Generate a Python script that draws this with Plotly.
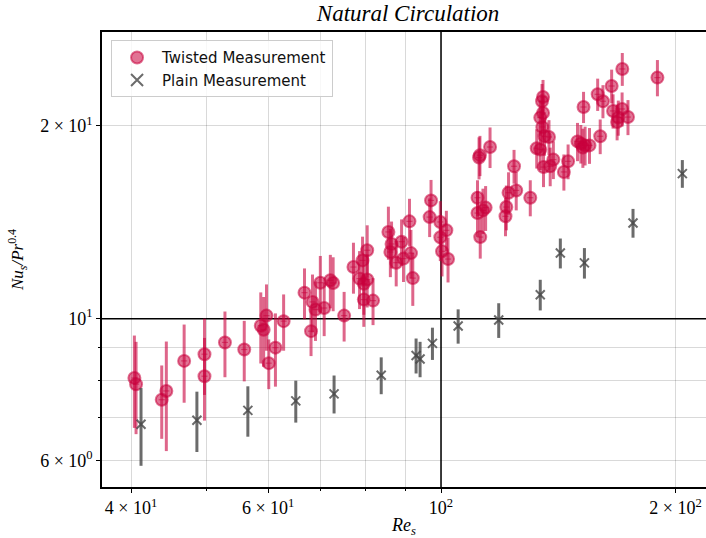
import plotly.graph_objects as go

# Twisted measurement data (Re_s, Nu_s/Pr^0.4, error)
tw_re = [40.4, 40.6, 43.8, 44.4, 46.8, 49.7, 49.7, 52.8, 55.9, 58.7, 59.2, 59.7, 60.1, 61.3, 62.8,
         66.8, 68.1, 68.4, 69.0, 70.0, 70.8, 72.1, 72.7, 75.1, 77.2, 78.6, 79.3, 79.6, 80.4, 79.6,
         81.8, 80.4, 85.6, 86.4, 86.1, 87.6, 89.0, 89.5, 91.1, 91.5, 92.0, 97.1, 96.7, 99.8, 99.8,
         101.6, 100.3, 102.1, 111.9, 112.2, 115.6, 111.4, 111.4, 113.2, 114.1, 112.3, 124.1, 122.1, 124.9, 121.3,
         121.0, 130.2, 134.8, 135.2, 134.1, 135.2, 134.9, 135.8, 137.6, 132.7, 134.1, 139.4, 135.4, 138.1, 145.6,
         143.8, 149.7, 151.2, 152.1, 153.1, 155.1, 152.4, 160.1, 158.9, 161.4, 165.6, 170.9, 166.3, 168.3, 168.9,
         170.8, 173.8, 189.6]
tw_nu = [8.08, 7.90, 7.47, 7.71, 8.59, 8.80, 8.13, 9.18, 8.95, 9.75, 9.61, 10.11, 8.52, 9.01, 9.91,
         10.98, 9.56, 10.62, 10.33, 11.38, 10.39, 11.48, 11.37, 10.11, 12.04, 11.55, 12.33, 11.34, 11.51, 10.71,
         10.67, 12.79, 13.66, 13.08, 12.71, 12.23, 13.19, 12.41, 14.19, 12.66, 11.57, 15.30, 14.41, 14.16, 13.40,
         13.74, 12.74, 12.39, 17.85, 18.00, 18.54, 15.45, 14.62, 14.76, 14.91, 13.41, 17.30, 15.73, 15.86, 14.94,
         14.45, 15.45, 21.86, 22.20, 20.61, 20.96, 19.93, 19.27, 19.22, 18.46, 18.37, 17.72, 17.25, 17.30, 17.61,
         16.95, 18.92, 18.77, 18.50, 18.65, 18.65, 21.41, 19.27, 22.41, 21.86, 23.09, 24.55, 21.11, 20.29, 20.61,
         21.26, 20.65, 23.80]
tw_err = [1.33, 1.30, 0.98, 1.50, 1.20, 1.20, 1.20, 1.08, 0.97, 1.24, 1.20, 1.20, 0.76, 1.18, 1.00,
          1.00, 0.82, 1.10, 1.10, 1.15, 1.00, 1.10, 1.10, 0.90, 1.10, 1.20, 1.10, 1.20, 1.10, 1.00,
          0.90, 1.20, 1.30, 1.10, 1.10, 1.00, 1.10, 1.00, 1.20, 1.10, 1.10, 1.17, 1.00, 1.10, 1.10,
          1.00, 1.10, 1.00, 1.35, 1.30, 1.35, 1.00, 1.20, 1.20, 1.20, 1.00, 1.05, 1.20, 1.10, 1.20,
          1.00, 1.00, 1.40, 1.40, 1.30, 1.30, 1.30, 1.30, 1.20, 1.30, 1.30, 1.20, 1.20, 1.20, 1.10,
          1.10, 1.30, 1.30, 1.30, 1.30, 1.20, 1.20, 1.20, 1.30, 1.30, 1.40, 1.45, 1.30, 1.30, 1.30,
          1.30, 1.30, 1.55]

# Plain measurement data
pl_re = [41.2, 48.6, 56.5, 65.1, 72.9, 83.8, 92.9, 94.0, 97.5, 105.2, 118.6, 134.1, 142.3, 152.8, 176.4, 204.1]
pl_nu = [6.84, 6.94, 7.19, 7.44, 7.63, 8.16, 8.76, 8.65, 9.15, 9.74, 9.95, 10.90, 12.66, 12.22, 14.11, 16.85]
pl_err = [0.95, 0.75, 0.65, 0.56, 0.52, 0.54, 0.55, 0.55, 0.53, 0.60, 0.62, 0.60, 0.68, 0.67, 0.73, 0.84]

x_major = [40, 60, 100, 200]
x_major_text = ["4 × 10<sup>1</sup>", "6 × 10<sup>1</sup>", "10<sup>2</sup>", "2 × 10<sup>2</sup>"]
x_minor = [50, 70, 80, 90]
y_major = [6, 10, 20]
y_major_text = ["6 × 10<sup>0</sup>", "10<sup>1</sup>", "2 × 10<sup>1</sup>"]
y_minor = [7, 8, 9]

RED = "rgba(200,0,60,0.6)"
GRAY = "rgba(70,70,70,0.8)"
SERIF = "Liberation Serif"

fig = go.Figure()
fig.add_trace(go.Scatter(
    x=tw_re, y=tw_nu, mode="markers", name="Twisted Measurement",
    error_y=dict(type="data", array=tw_err, visible=True, thickness=3, width=0, color=RED),
    error_x=dict(type="percent", value=0.9, visible=True, thickness=1.2, width=0, color="rgba(200,0,60,0.5)"),
    marker=dict(symbol="circle", size=12, color="rgba(200,0,60,0.55)",
                line=dict(width=2, color="rgba(200,0,60,0.55)")),
))
fig.add_trace(go.Scatter(
    x=pl_re, y=pl_nu, mode="markers", name="Plain Measurement",
    error_y=dict(type="data", array=pl_err, visible=True, thickness=3, width=0, color=GRAY),
    marker=dict(symbol="x-thin", size=9, color=GRAY, line=dict(width=2, color=GRAY)),
))

fig.add_vline(x=100, line=dict(color="black", width=1.5), layer="below")
fig.add_hline(y=10, line=dict(color="black", width=1.5), layer="below")

fig.update_layout(
    width=706, height=538,
    margin=dict(l=102, r=0, t=32, b=51),
    plot_bgcolor="white", paper_bgcolor="white",
    title=dict(text="<i>Natural Circulation</i>", x=0.578, xanchor="center", y=0.976, yanchor="middle",
               font=dict(family=SERIF, size=23, color="black")),
    showlegend=True,
    legend=dict(x=0.015, y=0.982, xanchor="left", yanchor="top",
                bgcolor="rgba(255,255,255,0.8)", bordercolor="#cccccc", borderwidth=1,
                font=dict(family="DejaVu Sans", size=15, color="#111"),
                itemsizing="constant", itemwidth=40),
    xaxis=dict(type="log", range=[1.5648, 2.3402],
               tickvals=x_major, ticktext=x_major_text, ticks="outside", ticklen=4,
               tickcolor="black",
               tickfont=dict(family=SERIF, size=18, color="black"),
               showgrid=True, gridcolor="rgba(0,0,0,0.15)", gridwidth=1,
               minor=dict(tickvals=x_minor, ticks="outside", ticklen=2, tickcolor="black",
                          showgrid=True, gridcolor="rgba(0,0,0,0.15)", gridwidth=1),
               showline=True, linecolor="black", linewidth=1.5, mirror=True, zeroline=False,
               title=dict(text="<i>Re</i><sub><i>s</i></sub>", font=dict(family=SERIF, size=18, color="black"),
                          standoff=3)),
    yaxis=dict(type="log", range=[0.737, 1.4478],
               tickvals=y_major, ticktext=y_major_text, ticks="outside", ticklen=4,
               tickcolor="black",
               tickfont=dict(family=SERIF, size=18, color="black"),
               showgrid=True, gridcolor="rgba(0,0,0,0.15)", gridwidth=1,
               minor=dict(tickvals=y_minor, ticks="outside", ticklen=2, tickcolor="black",
                          showgrid=True, gridcolor="rgba(0,0,0,0.15)", gridwidth=1),
               showline=True, linecolor="black", linewidth=1.5, mirror=False, zeroline=False,
               title=dict(text="<i>Nu</i><sub><i>s</i></sub><i>/Pr</i><sup>0.4</sup>",
                          font=dict(family=SERIF, size=17, color="black"), standoff=12)),
)

fig.write_html("out.html")
